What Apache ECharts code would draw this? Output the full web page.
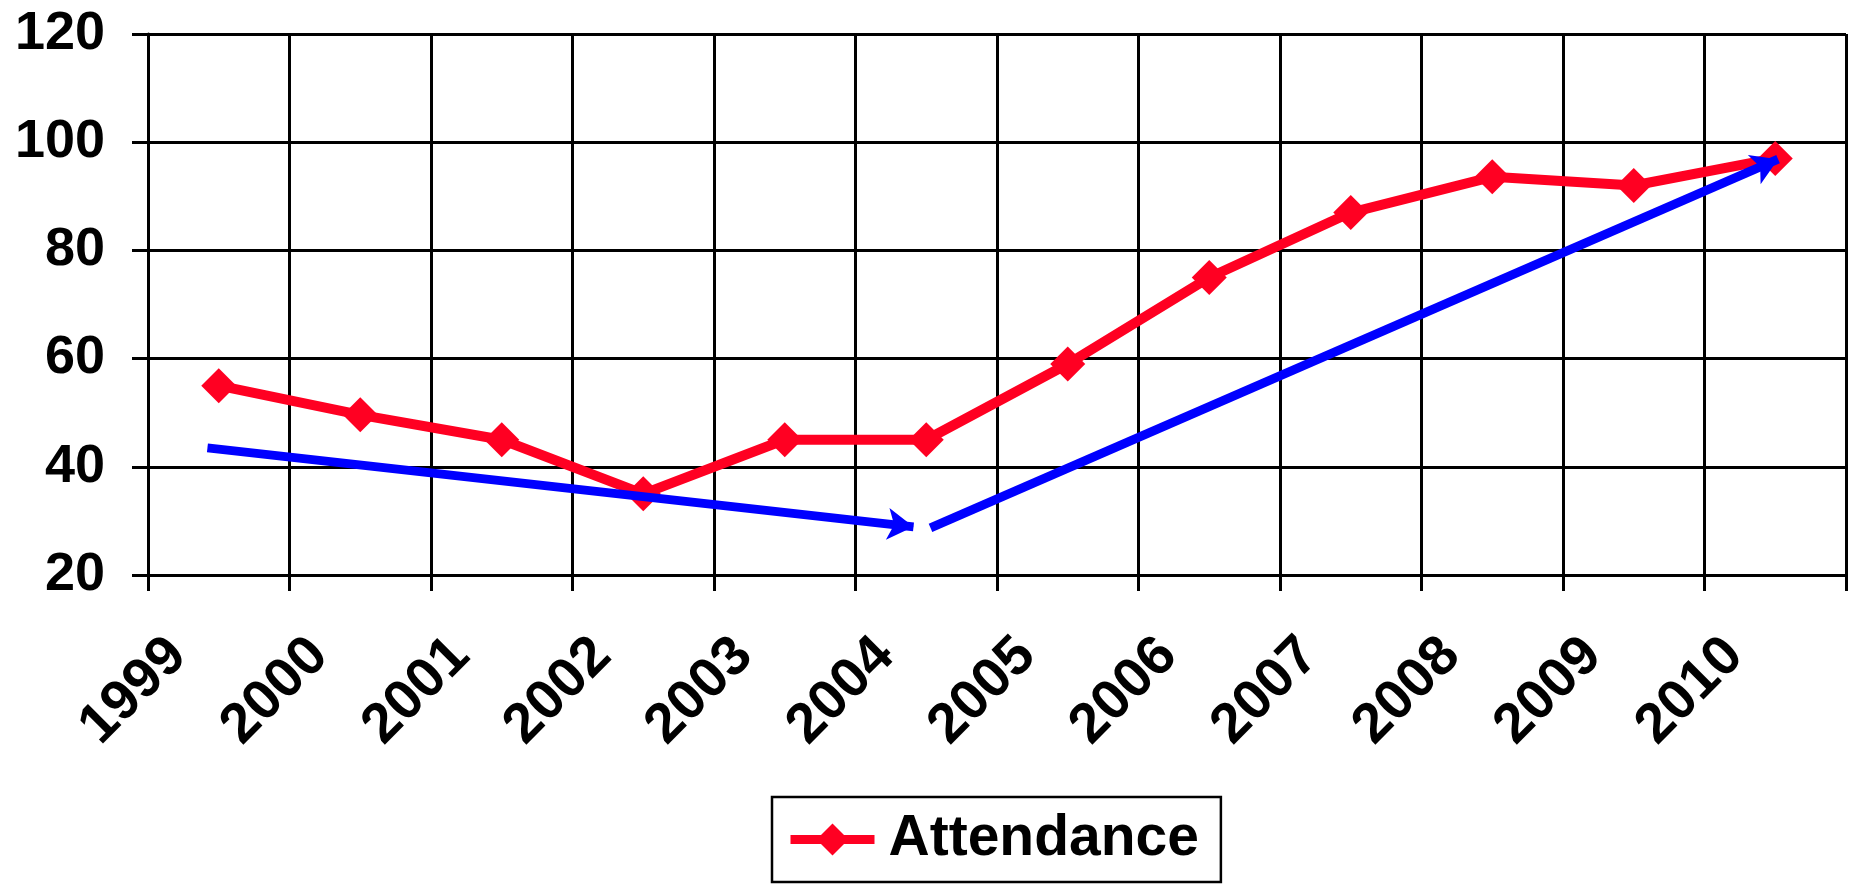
<!DOCTYPE html>
<html>
<head>
<meta charset="utf-8">
<title>Attendance 1999–2010</title>
<script src="https://cdn.jsdelivr.net/npm/echarts@6/dist/echarts.min.js"></script>
<style>
  html, body { margin: 0; padding: 0; background: #ffffff; }
  #chart { width: 1852px; height: 885px; }
</style>
</head>
<body>
<div id="chart"></div>
<script>
// Years along the horizontal axis
const years = ['1999', '2000', '2001', '2002', '2003', '2004', '2005', '2006', '2007', '2008', '2009', '2010'];
// Attendance per year
const attendance = [55, 49.6, 45, 35, 45, 45, 59, 75, 87, 93.6, 92, 97];
// Vertical axis range and step
const yMin = 20, yMax = 120, yStep = 20;
// Trend arrows, as [start, tip] pairs of [position along years (0 = left edge, 12 = right edge), value]
const trendDown = [[0.42, 43.5], [5.41, 28.9]];
const trendUp = [[5.53, 28.7], [11.52, 96.85]];

const FONT = '"Liberation Sans", Arial, Helvetica, sans-serif';
const RED = '#ff0022';
const BLUE = '#0000ff';

const chart = echarts.init(document.getElementById('chart'), null, { renderer: 'canvas' });

chart.setOption({
  animation: false,
  backgroundColor: '#ffffff',
  grid: { left: 148, right: 6, top: 34, bottom: 310, containLabel: false },
  legend: {
    data: ['Attendance'],
    left: 772,
    top: 797,
    orient: 'horizontal',
    padding: [14, 22, 14, 14],
    borderColor: '#000000',
    borderWidth: 2.5,
    backgroundColor: '#ffffff',
    itemWidth: 84,
    itemHeight: 40,
    lineStyle: { width: 9, color: RED },
    itemStyle: { color: RED },
    textStyle: {
      fontFamily: FONT,
      fontWeight: 'bold',
      fontSize: 57,
      lineHeight: 56,
      color: '#000000',
      padding: [0, 0, 0, 9]
    }
  },
  xAxis: [
    {
      type: 'category',
      data: years,
      boundaryGap: true,
      axisLine: { show: true, lineStyle: { color: '#000000', width: 3 } },
      axisTick: { show: true, inside: false, length: 16, alignWithLabel: false, lineStyle: { color: '#000000', width: 3 } },
      splitLine: { show: true, interval: 0, lineStyle: { color: '#000000', width: 3 } },
      axisLabel: {
        interval: 0,
        rotate: 45,
        margin: 31,
        padding: [0, 58, 0, 0],
        fontFamily: FONT,
        fontWeight: 'bold',
        fontSize: 56,
        color: '#000000'
      }
    },
    {
      // Hidden linear companion axis used to place the trend arrows
      type: 'value',
      min: 0,
      max: 12,
      show: false
    }
  ],
  yAxis: {
    type: 'value',
    min: yMin,
    max: yMax,
    interval: yStep,
    axisLine: { show: true, lineStyle: { color: '#000000', width: 3 } },
    axisTick: { show: true, inside: false, length: 16, lineStyle: { color: '#000000', width: 3 } },
    splitLine: { show: true, lineStyle: { color: '#000000', width: 3 } },
    axisLabel: {
      margin: 43,
      padding: [0, 0, 8, 0],
      fontFamily: FONT,
      fontWeight: 'bold',
      fontSize: 54,
      color: '#000000'
    }
  },
  series: [
    {
      name: 'Trend',
      type: 'line',
      xAxisIndex: 1,
      yAxisIndex: 0,
      data: [],
      silent: true,
      z: 3,
      markLine: {
        silent: true,
        animation: false,
        symbol: ['none', 'arrow'],
        symbolSize: [24, 26],
        label: { show: false },
        lineStyle: { color: BLUE, width: 9, type: 'solid' },
        itemStyle: { color: BLUE },
        emphasis: { disabled: true },
        data: [
          [{ coord: trendDown[0] }, { coord: trendDown[1] }],
          [{ coord: trendUp[0] }, { coord: trendUp[1] }]
        ]
      }
    },
    {
      name: 'Attendance',
      type: 'line',
      data: attendance,
      xAxisIndex: 0,
      yAxisIndex: 0,
      z: 4,
      symbol: 'diamond',
      symbolSize: 35,
      showAllSymbol: true,
      lineStyle: { color: RED, width: 10 },
      itemStyle: { color: RED },
      emphasis: { disabled: true }
    }
  ]
});
</script>
</body>
</html>
